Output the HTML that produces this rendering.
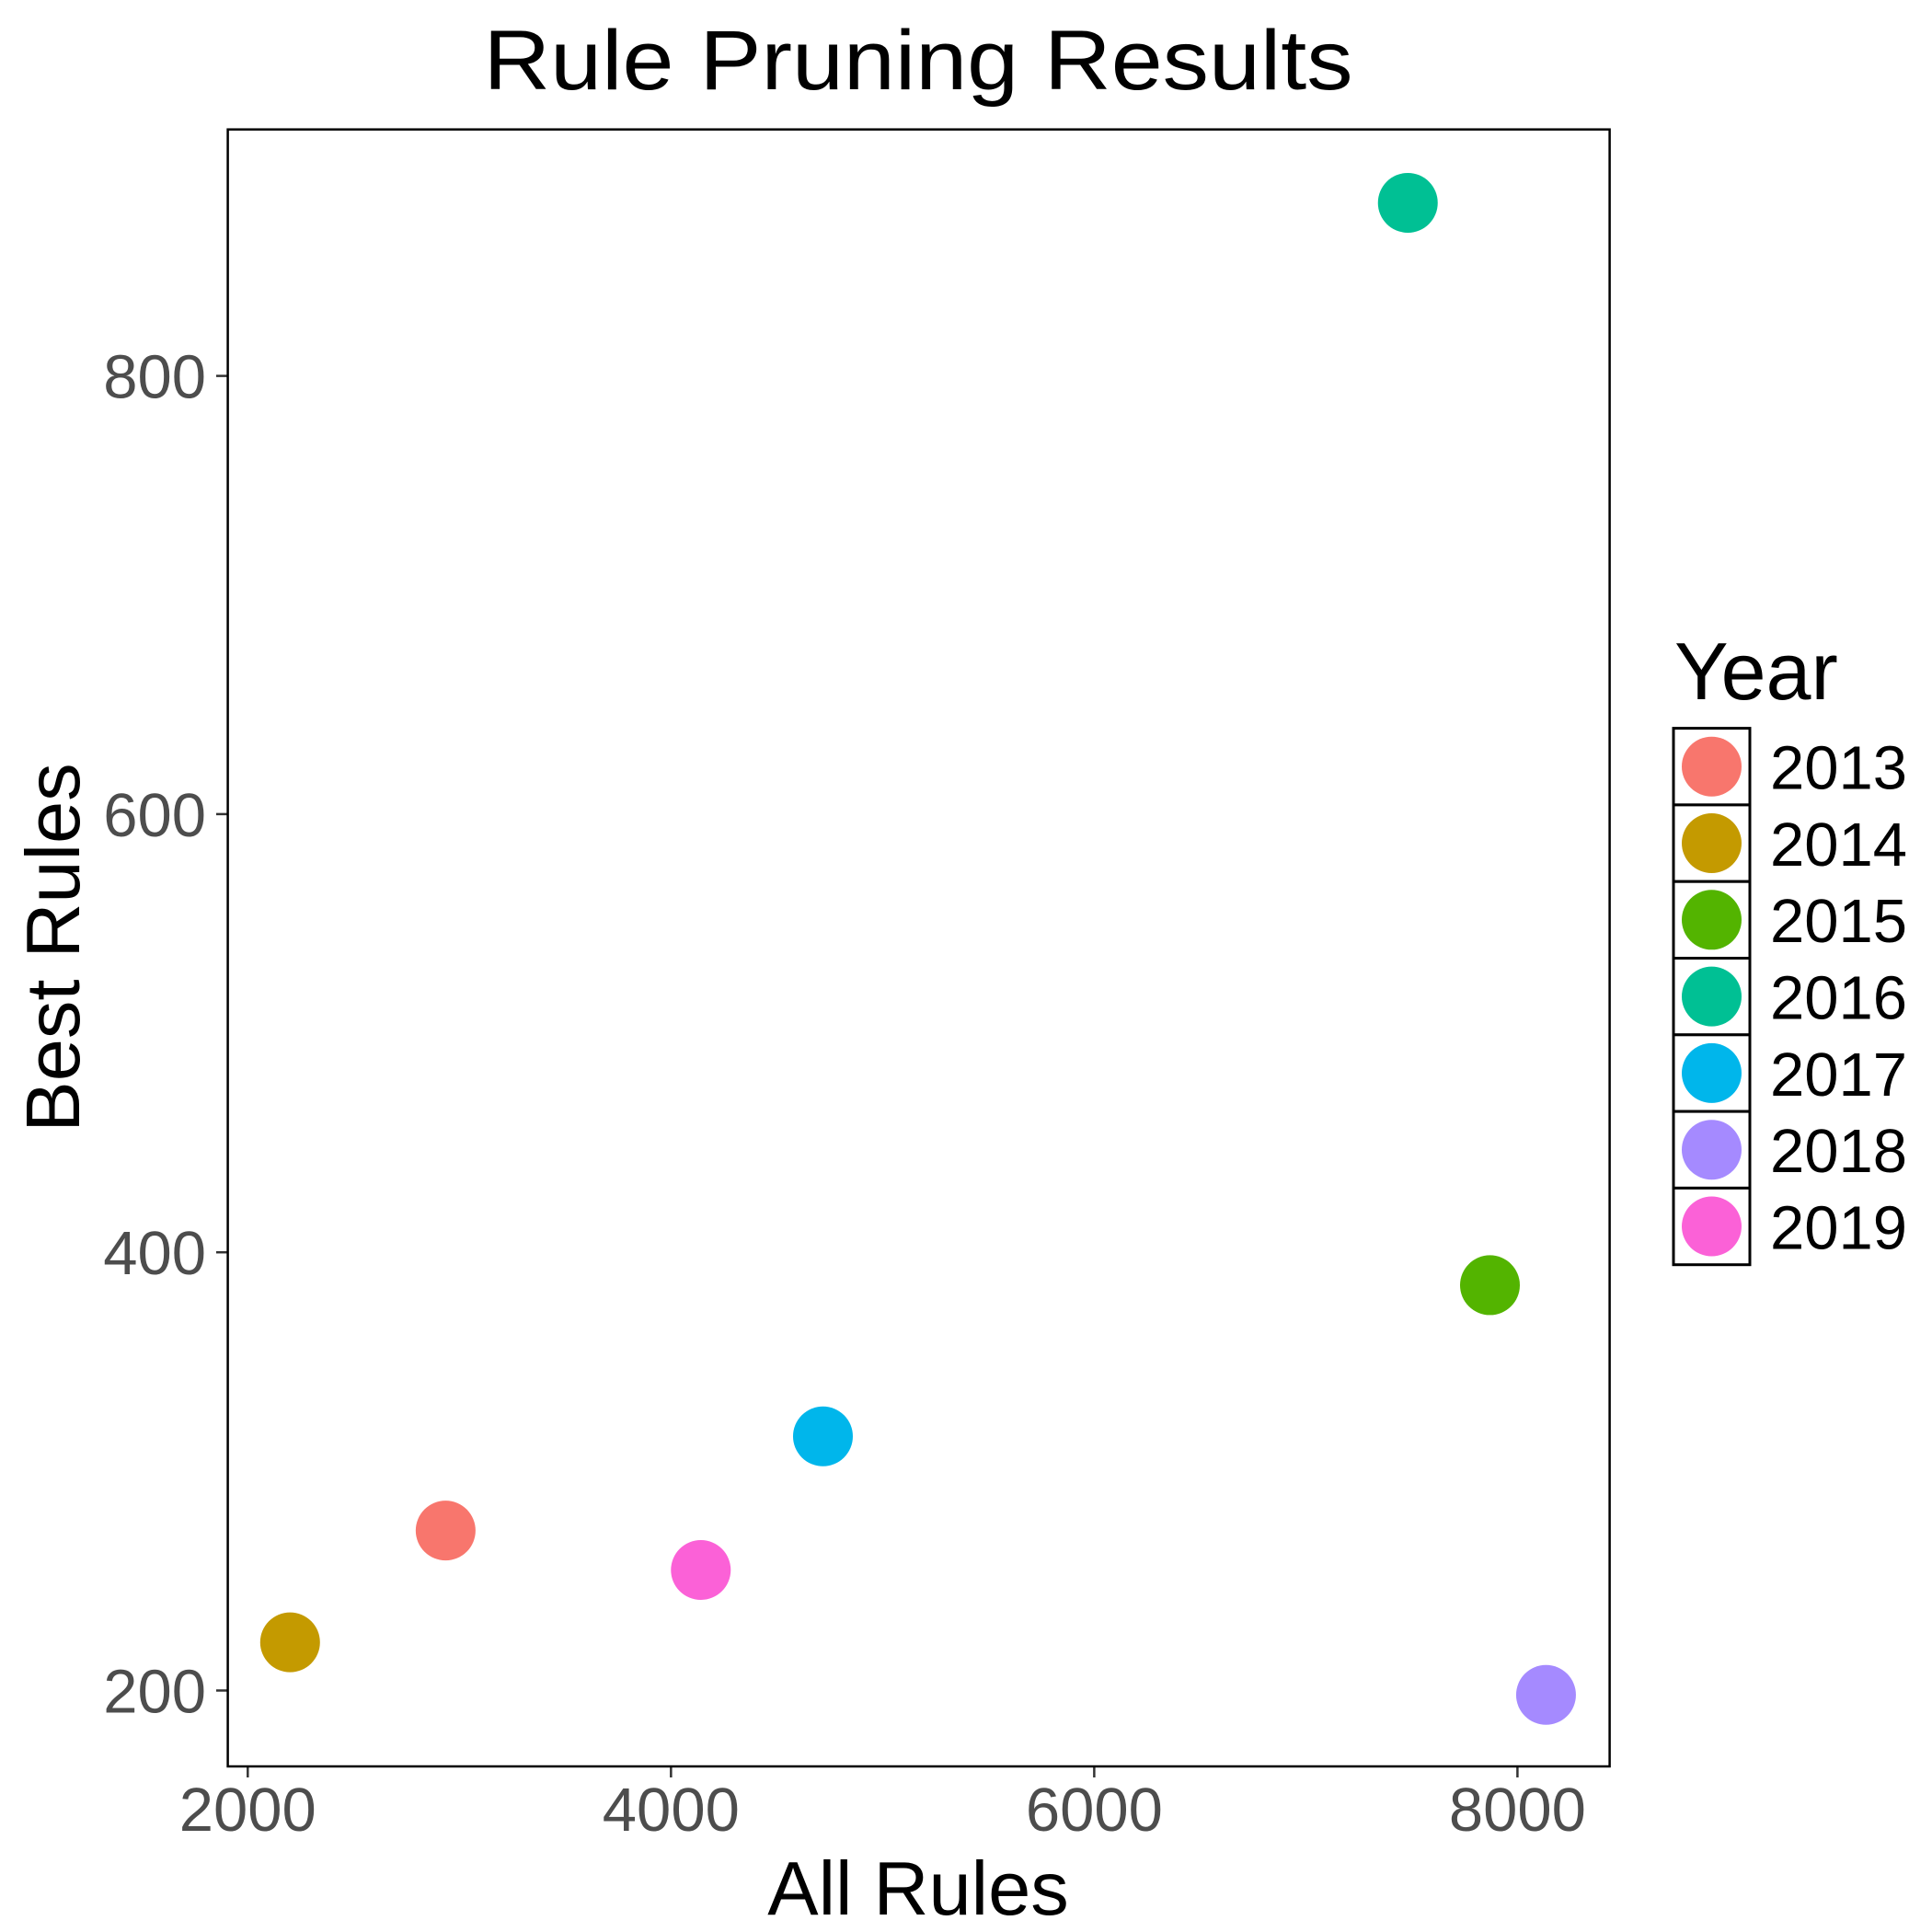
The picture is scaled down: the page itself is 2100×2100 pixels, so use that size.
<!DOCTYPE html>
<html><head><meta charset="utf-8"><style>body{margin:0;background:#fff}svg{display:block;font-family:"Liberation Sans",sans-serif}</style></head>
<body>
<svg id="chart" width="2100" height="2100" viewBox="0 0 2100 2100" xmlns="http://www.w3.org/2000/svg">
<rect width="2100" height="2100" fill="#fff"/>
<text x="998" y="97" font-size="92" text-anchor="middle" textLength="945" lengthAdjust="spacingAndGlyphs">Rule Pruning Results</text>
<g id="plot"></g>
<rect x="247.6" y="140.7" width="1502" height="1779.3" fill="none" stroke="#000" stroke-width="2.5"/>
<text x="998" y="2081" font-size="83" text-anchor="middle">All Rules</text>
<text transform="translate(86,1030) rotate(-90)" font-size="83" text-anchor="middle">Best Rules</text>
<text x="1820" y="760" font-size="88">Year</text>
<g id="legend"></g>
</svg>
<script>
const years=["2013","2014","2015","2016","2017","2018","2019"];
const allRules=[2935,2200,7870,7482,4718,8135,4141];
const bestRules=[273,222,385,879,316,198,255];
const colors=["#F8766D","#C49A00","#53B400","#00C094","#00B6EB","#A58AFF","#FB61D7"];
const xTicks=[2000,4000,6000,8000];
const yTicks=[200,400,600,800];
const NS="http://www.w3.org/2000/svg";
const xs=v=>269.3+(v-2000)*(1649.4-269.3)/6000;
const ys=v=>1837.5-(v-200)*(1837.5-408.6)/600;
const plot=document.getElementById('plot');
function mk(t,a,p){const e=document.createElementNS(NS,t);for(const k in a)e.setAttribute(k,a[k]);p.appendChild(e);return e;}
xTicks.forEach(t=>{
  const l=mk('line',{x1:xs(t),x2:xs(t),y1:1920,y2:1932,stroke:'#333','stroke-width':2.5},plot);
  
  
  const tx=mk('text',{x:xs(t),y:1990,'font-size':67,fill:'#4d4d4d','text-anchor':'middle'},plot);
  tx.textContent=t;
  
  
});
yTicks.forEach(t=>{
  const l=mk('line',{x1:235,x2:247.6,y1:ys(t),y2:ys(t),stroke:'#333','stroke-width':2.5},plot);
  
  
  const tx=mk('text',{x:224,y:ys(t)+24,'font-size':67,fill:'#4d4d4d','text-anchor':'end'},plot);
  tx.textContent=t;
  
  
});
years.forEach((y,i)=>{
  const c=mk('circle',{cx:xs(allRules[i]),cy:ys(bestRules[i]),r:32.5,fill:colors[i]},plot);
  
  
});
const lg=document.getElementById('legend');
years.forEach((y,i)=>{
  const top=791.6+i*83.3;
  const r=mk('rect',{x:1819,y:top,width:83,height:83.3,fill:'#fff',stroke:'#000','stroke-width':3},lg);
  
  
  const c=mk('circle',{cx:1860.5,cy:top+41.6,r:32.5,fill:colors[i]},lg);
  
  
  const t=mk('text',{x:1924,y:top+66,'font-size':67,fill:'#000'},lg);
  t.textContent=y;
  
  
});
</script>
</body></html>
